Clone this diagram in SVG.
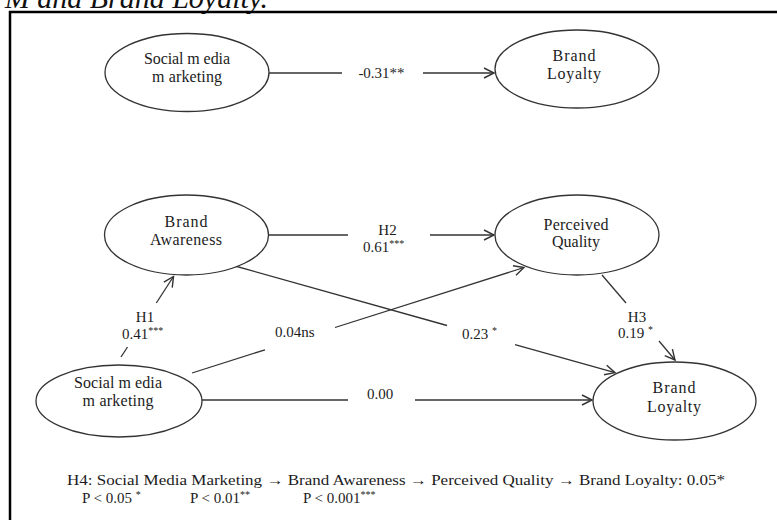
<svg xmlns="http://www.w3.org/2000/svg" width="777" height="520" viewBox="0 0 777 520">
<style>
.node{fill:#fff;stroke:#333;stroke-width:1.3}
.t{font-family:"Liberation Serif","Times New Roman",serif;font-size:16px;fill:#1c1c1c;text-anchor:middle}
.l{font-family:"Liberation Serif","Times New Roman",serif;font-size:15px;fill:#1c1c1c}
.c{stroke:#333;stroke-width:1.3;fill:none}
.sup{font-size:10px}
</style>
<defs>
<marker id="ah" markerUnits="userSpaceOnUse" markerWidth="14" markerHeight="14" refX="11" refY="6" orient="auto">
<path d="M1,1 L11,6 L1,11" fill="none" stroke="#333" stroke-width="1.4"/>
</marker>
</defs>
<rect width="777" height="520" fill="#fff"/>
<text x="268" y="8" font-family="Liberation Serif, serif" font-style="italic" font-size="30" fill="#111" text-anchor="end">M and Brand Loyalty.</text>
<rect x="10" y="12" width="790" height="530" fill="none" stroke="#000" stroke-width="2.5"/>

<g id="connectors">
<line class="c" x1="269" y1="73" x2="342" y2="73"/>
<line class="c" x1="423" y1="73" x2="494" y2="73" marker-end="url(#ah)"/>
<line class="c" x1="268" y1="235" x2="348" y2="235"/>
<line class="c" x1="430" y1="235" x2="494" y2="235" marker-end="url(#ah)"/>
<line class="c" x1="235" y1="266" x2="447" y2="325.5"/>
<line class="c" x1="515" y1="344.6" x2="615" y2="372.7" marker-end="url(#ah)"/>
<line class="c" x1="192" y1="373" x2="265" y2="349.8"/>
<line class="c" x1="335" y1="327.5" x2="524" y2="267.5" marker-end="url(#ah)"/>
<line class="c" x1="121" y1="357" x2="127.5" y2="347"/>
<line class="c" x1="156.3" y1="303" x2="173.5" y2="276.5" marker-end="url(#ah)"/>
<line class="c" x1="602" y1="275" x2="626" y2="303"/>
<line class="c" x1="659" y1="341" x2="675" y2="360" marker-end="url(#ah)"/>
<line class="c" x1="202" y1="400" x2="348" y2="400"/>
<line class="c" x1="415" y1="400" x2="592" y2="400" marker-end="url(#ah)"/>
</g>

<g id="smm-top">
<ellipse class="node" cx="187" cy="72.5" rx="82" ry="39"/>
<text class="t" x="187" y="64" textLength="86">Social m edia</text>
<text class="t" x="187" y="82" textLength="70">m arketing</text>
</g>
<g id="bl-top">
<ellipse class="node" cx="577" cy="69" rx="82" ry="39"/>
<text class="t" x="574" y="61" textLength="43">Brand</text>
<text class="t" x="574" y="79" textLength="54">Loyalty</text>
</g>
<g id="ba">
<ellipse class="node" cx="186.5" cy="235" rx="82" ry="40"/>
<text class="t" x="186" y="227" textLength="43">Brand</text>
<text class="t" x="186" y="245" textLength="72">Awareness</text>
</g>
<g id="pq">
<ellipse class="node" cx="577" cy="235" rx="82" ry="40"/>
<text class="t" x="576" y="230" textLength="65">Perceived</text>
<text class="t" x="576" y="247" textLength="48">Quality</text>
</g>
<g id="smm-bottom">
<ellipse class="node" cx="119" cy="401" rx="83" ry="36"/>
<text class="t" x="118" y="388" textLength="88">Social m edia</text>
<text class="t" x="118" y="406" textLength="71">m arketing</text>
</g>
<g id="bl-bottom">
<ellipse class="node" cx="674.5" cy="401" rx="81.5" ry="39"/>
<text class="t" x="674" y="393" textLength="43">Brand</text>
<text class="t" x="674" y="412" textLength="54">Loyalty</text>
</g>

<g id="labels">
<text class="l" x="381.5" y="78" text-anchor="middle" font-size="16">-0.31**</text>
<text class="l" x="387.5" y="235" text-anchor="middle">H2</text>
<text class="l" x="363" y="252">0.61<tspan class="sup" dy="-5">***</tspan></text>
<text class="l" x="145" y="322" text-anchor="middle">H1</text>
<text class="l" x="122" y="339">0.41<tspan class="sup" dy="-5">***</tspan></text>
<text class="l" x="275" y="337">0.04ns</text>
<text class="l" x="462" y="339">0.23 <tspan class="sup" dy="-5">*</tspan></text>
<text class="l" x="637" y="322" text-anchor="middle">H3</text>
<text class="l" x="618" y="338">0.19 <tspan class="sup" dy="-5">*</tspan></text>
<text class="l" x="367" y="399">0.00</text>
<text class="l" x="67" y="485" textLength="658" lengthAdjust="spacingAndGlyphs">H4: Social Media Marketing → Brand Awareness → Perceived Quality → Brand Loyalty: 0.05*</text>
<text class="l" x="82" y="503">P &lt; 0.05 <tspan class="sup" dy="-5">*</tspan></text>
<text class="l" x="190" y="503">P &lt; 0.01<tspan class="sup" dy="-5">**</tspan></text>
<text class="l" x="303" y="503">P &lt; 0.001<tspan class="sup" dy="-5">***</tspan></text>
</g>
</svg>
